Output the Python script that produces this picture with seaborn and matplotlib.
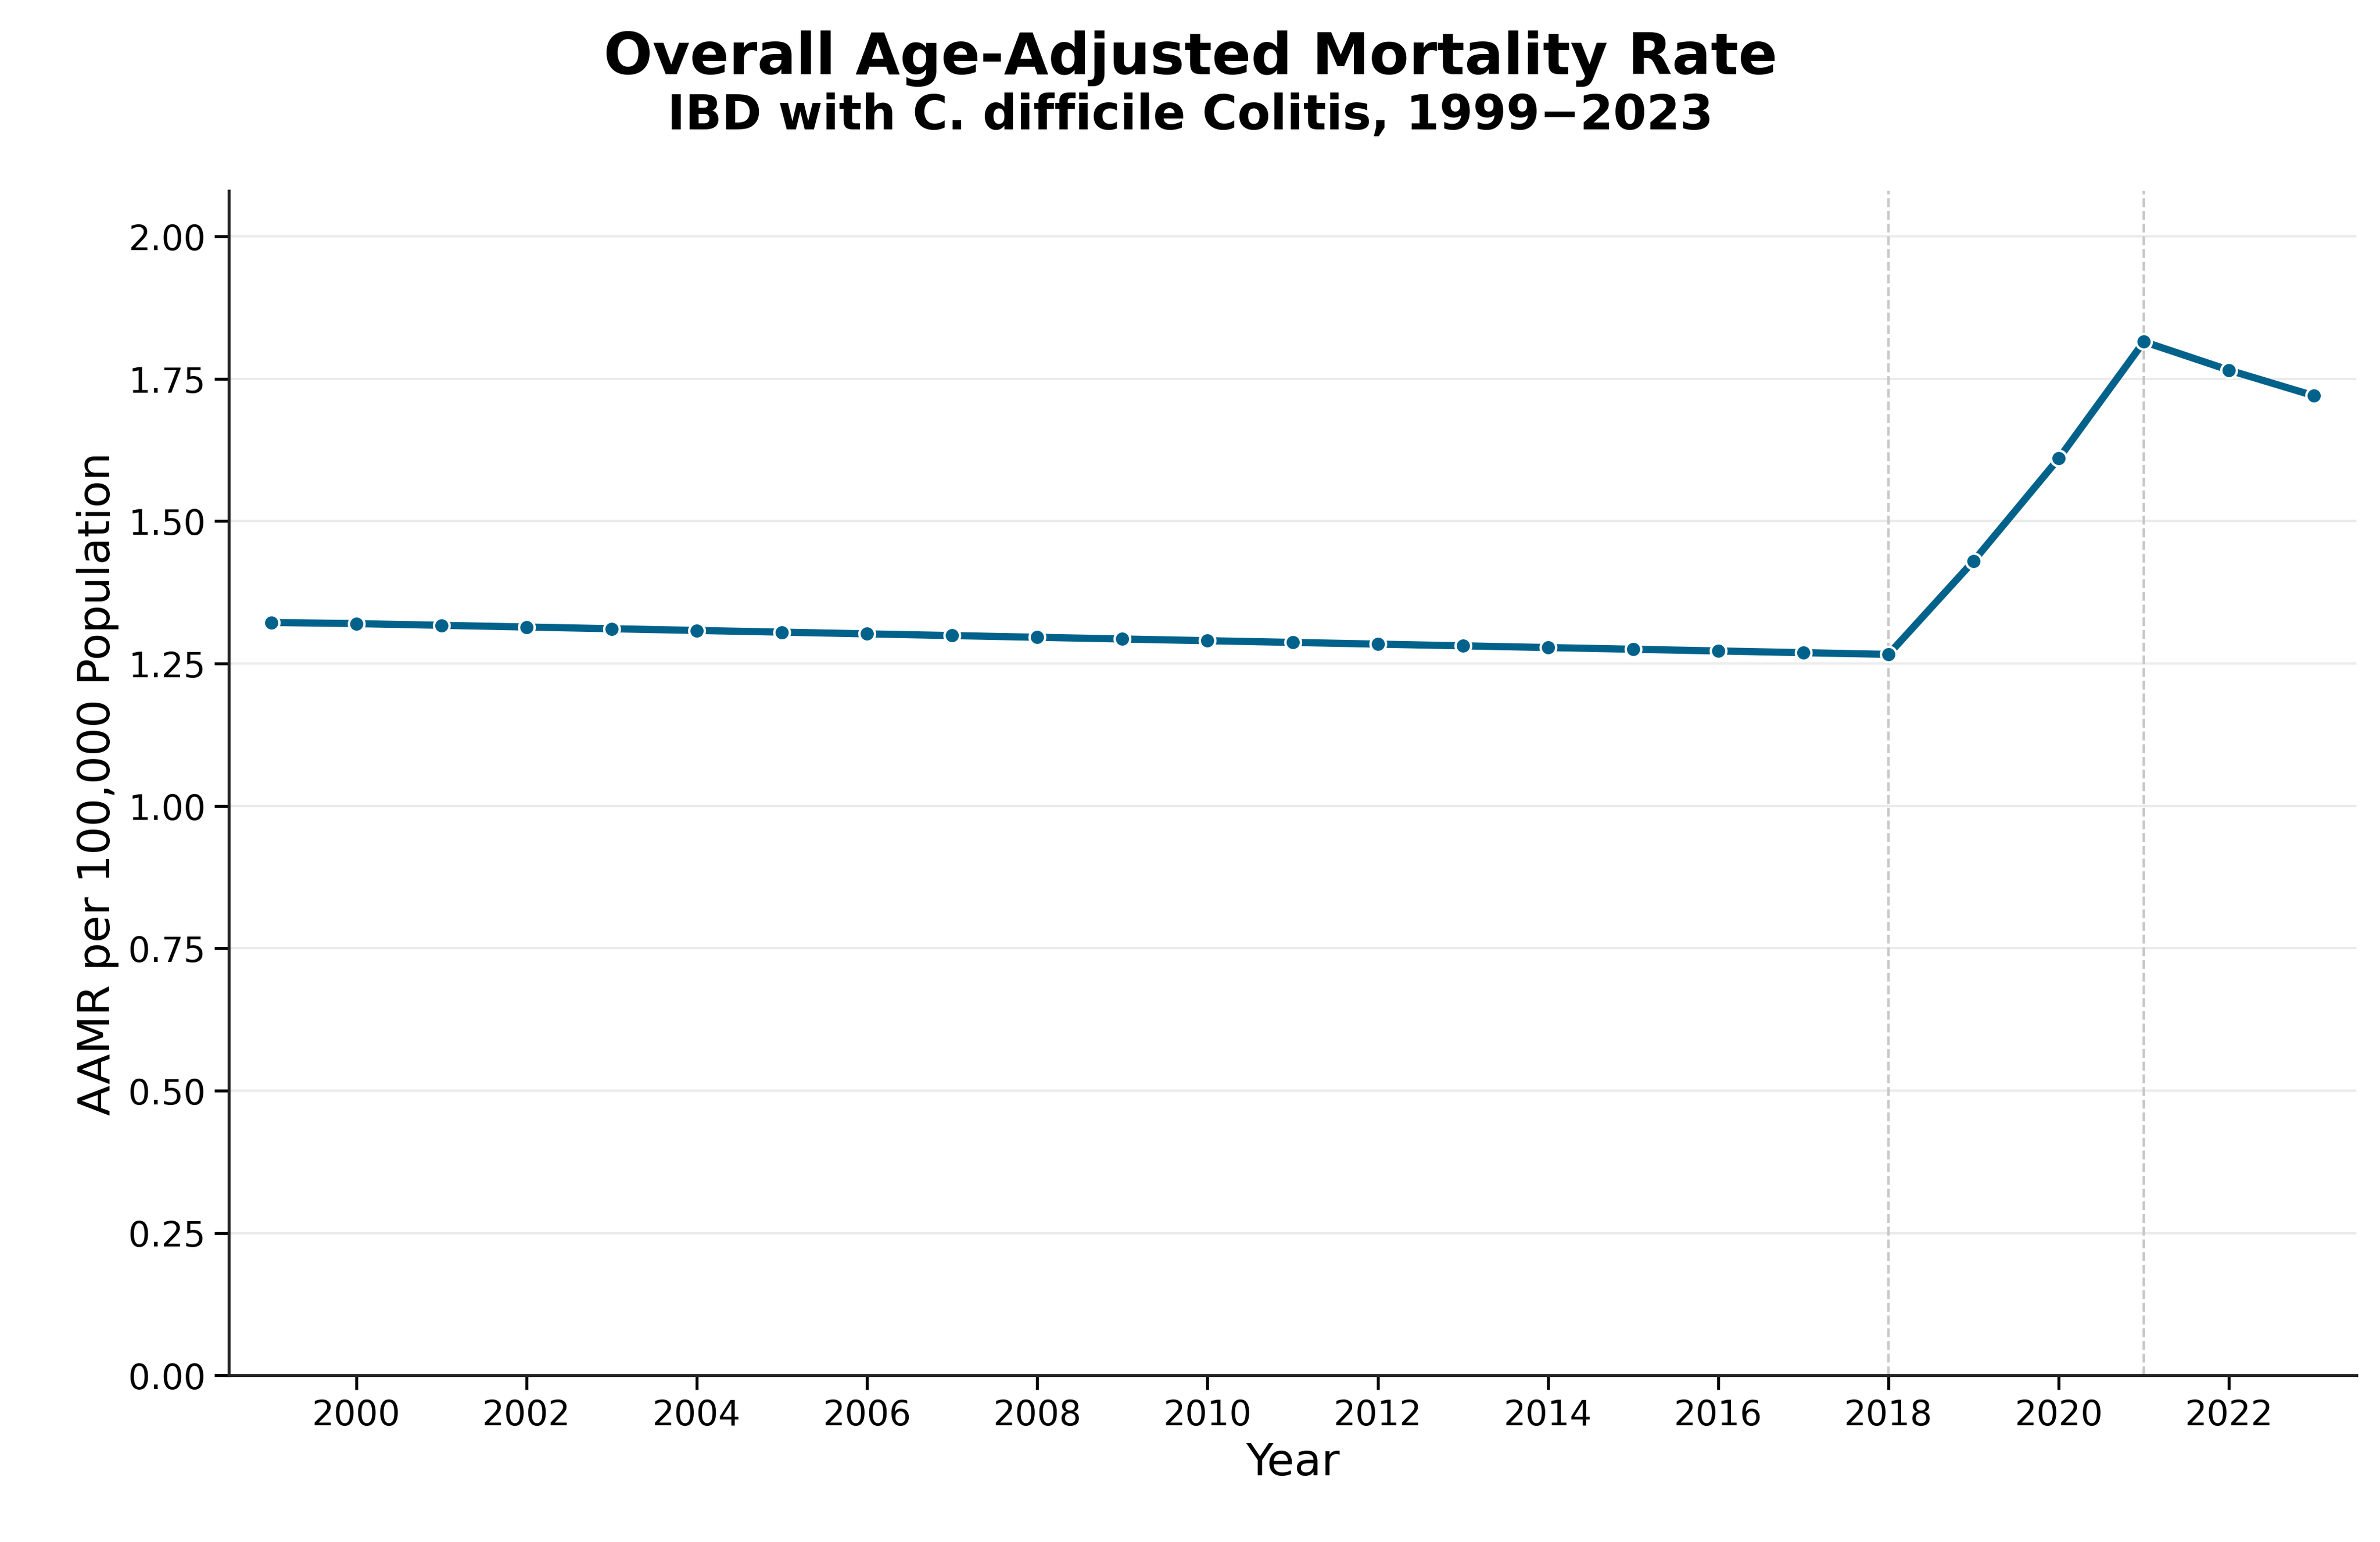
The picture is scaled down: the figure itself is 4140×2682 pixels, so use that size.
import numpy as np
import pandas as pd
import seaborn as sns
import matplotlib.pyplot as plt

# Datos
years = list(range(1999, 2024))
aamr = [1.322, 1.320, 1.317, 1.314, 1.311, 1.308, 1.305, 1.302, 1.299, 1.296,
        1.293, 1.290, 1.287, 1.284, 1.281, 1.278, 1.275, 1.272, 1.269, 1.266,
        1.430, 1.610, 1.815, 1.765, 1.720]
joinpoints = [2018, 2021]

df = pd.DataFrame({'Year': years, 'AAMR': aamr})

sns.set_theme(style='ticks')
plt.rcParams['font.family'] = ['DejaVu Sans']
plt.rcParams['text.color'] = 'black'
plt.rcParams['axes.labelcolor'] = 'black'
plt.rcParams['xtick.color'] = 'black'
plt.rcParams['ytick.color'] = 'black'

fig = plt.figure(figsize=(13.803, 8.943), dpi=300)
ax = fig.add_axes([0.096, 0.108, 0.894, 0.768])

ax.grid(axis='y', color='#ebebeb', linewidth=1)
for jp in joinpoints:
    ax.axvline(jp, color='#c8c8c8', linestyle='--', linewidth=1)

sns.lineplot(data=df, x='Year', y='AAMR', ax=ax, color='#00628b', linewidth=3,
             marker='o', markersize=6.5, markeredgecolor='white', markeredgewidth=1)

ax.set_xlim(1998.5, 2023.5)
ax.set_ylim(0, 2.08)
ax.set_xticks(range(2000, 2024, 2))
ax.set_yticks(np.arange(0, 2.01, 0.25))
ax.yaxis.set_major_formatter(plt.FormatStrFormatter('%.2f'))
ax.tick_params(labelsize=14.5)
ax.set_xlabel('Year', fontsize=18.5)
ax.set_ylabel('AAMR per 100,000 Population', fontsize=18.5)
ax.set_axisbelow(True)
sns.despine(ax=ax)

fig.text(0.5, 0.962, 'Overall Age-Adjusted Mortality Rate', ha='center', va='center',
         fontsize=24, fontweight='bold')
fig.text(0.5, 0.925, 'IBD with C. difficile Colitis, 1999\u22122023', ha='center', va='center',
         fontsize=20, fontweight='bold')

fig.savefig('out.png', dpi=300)
